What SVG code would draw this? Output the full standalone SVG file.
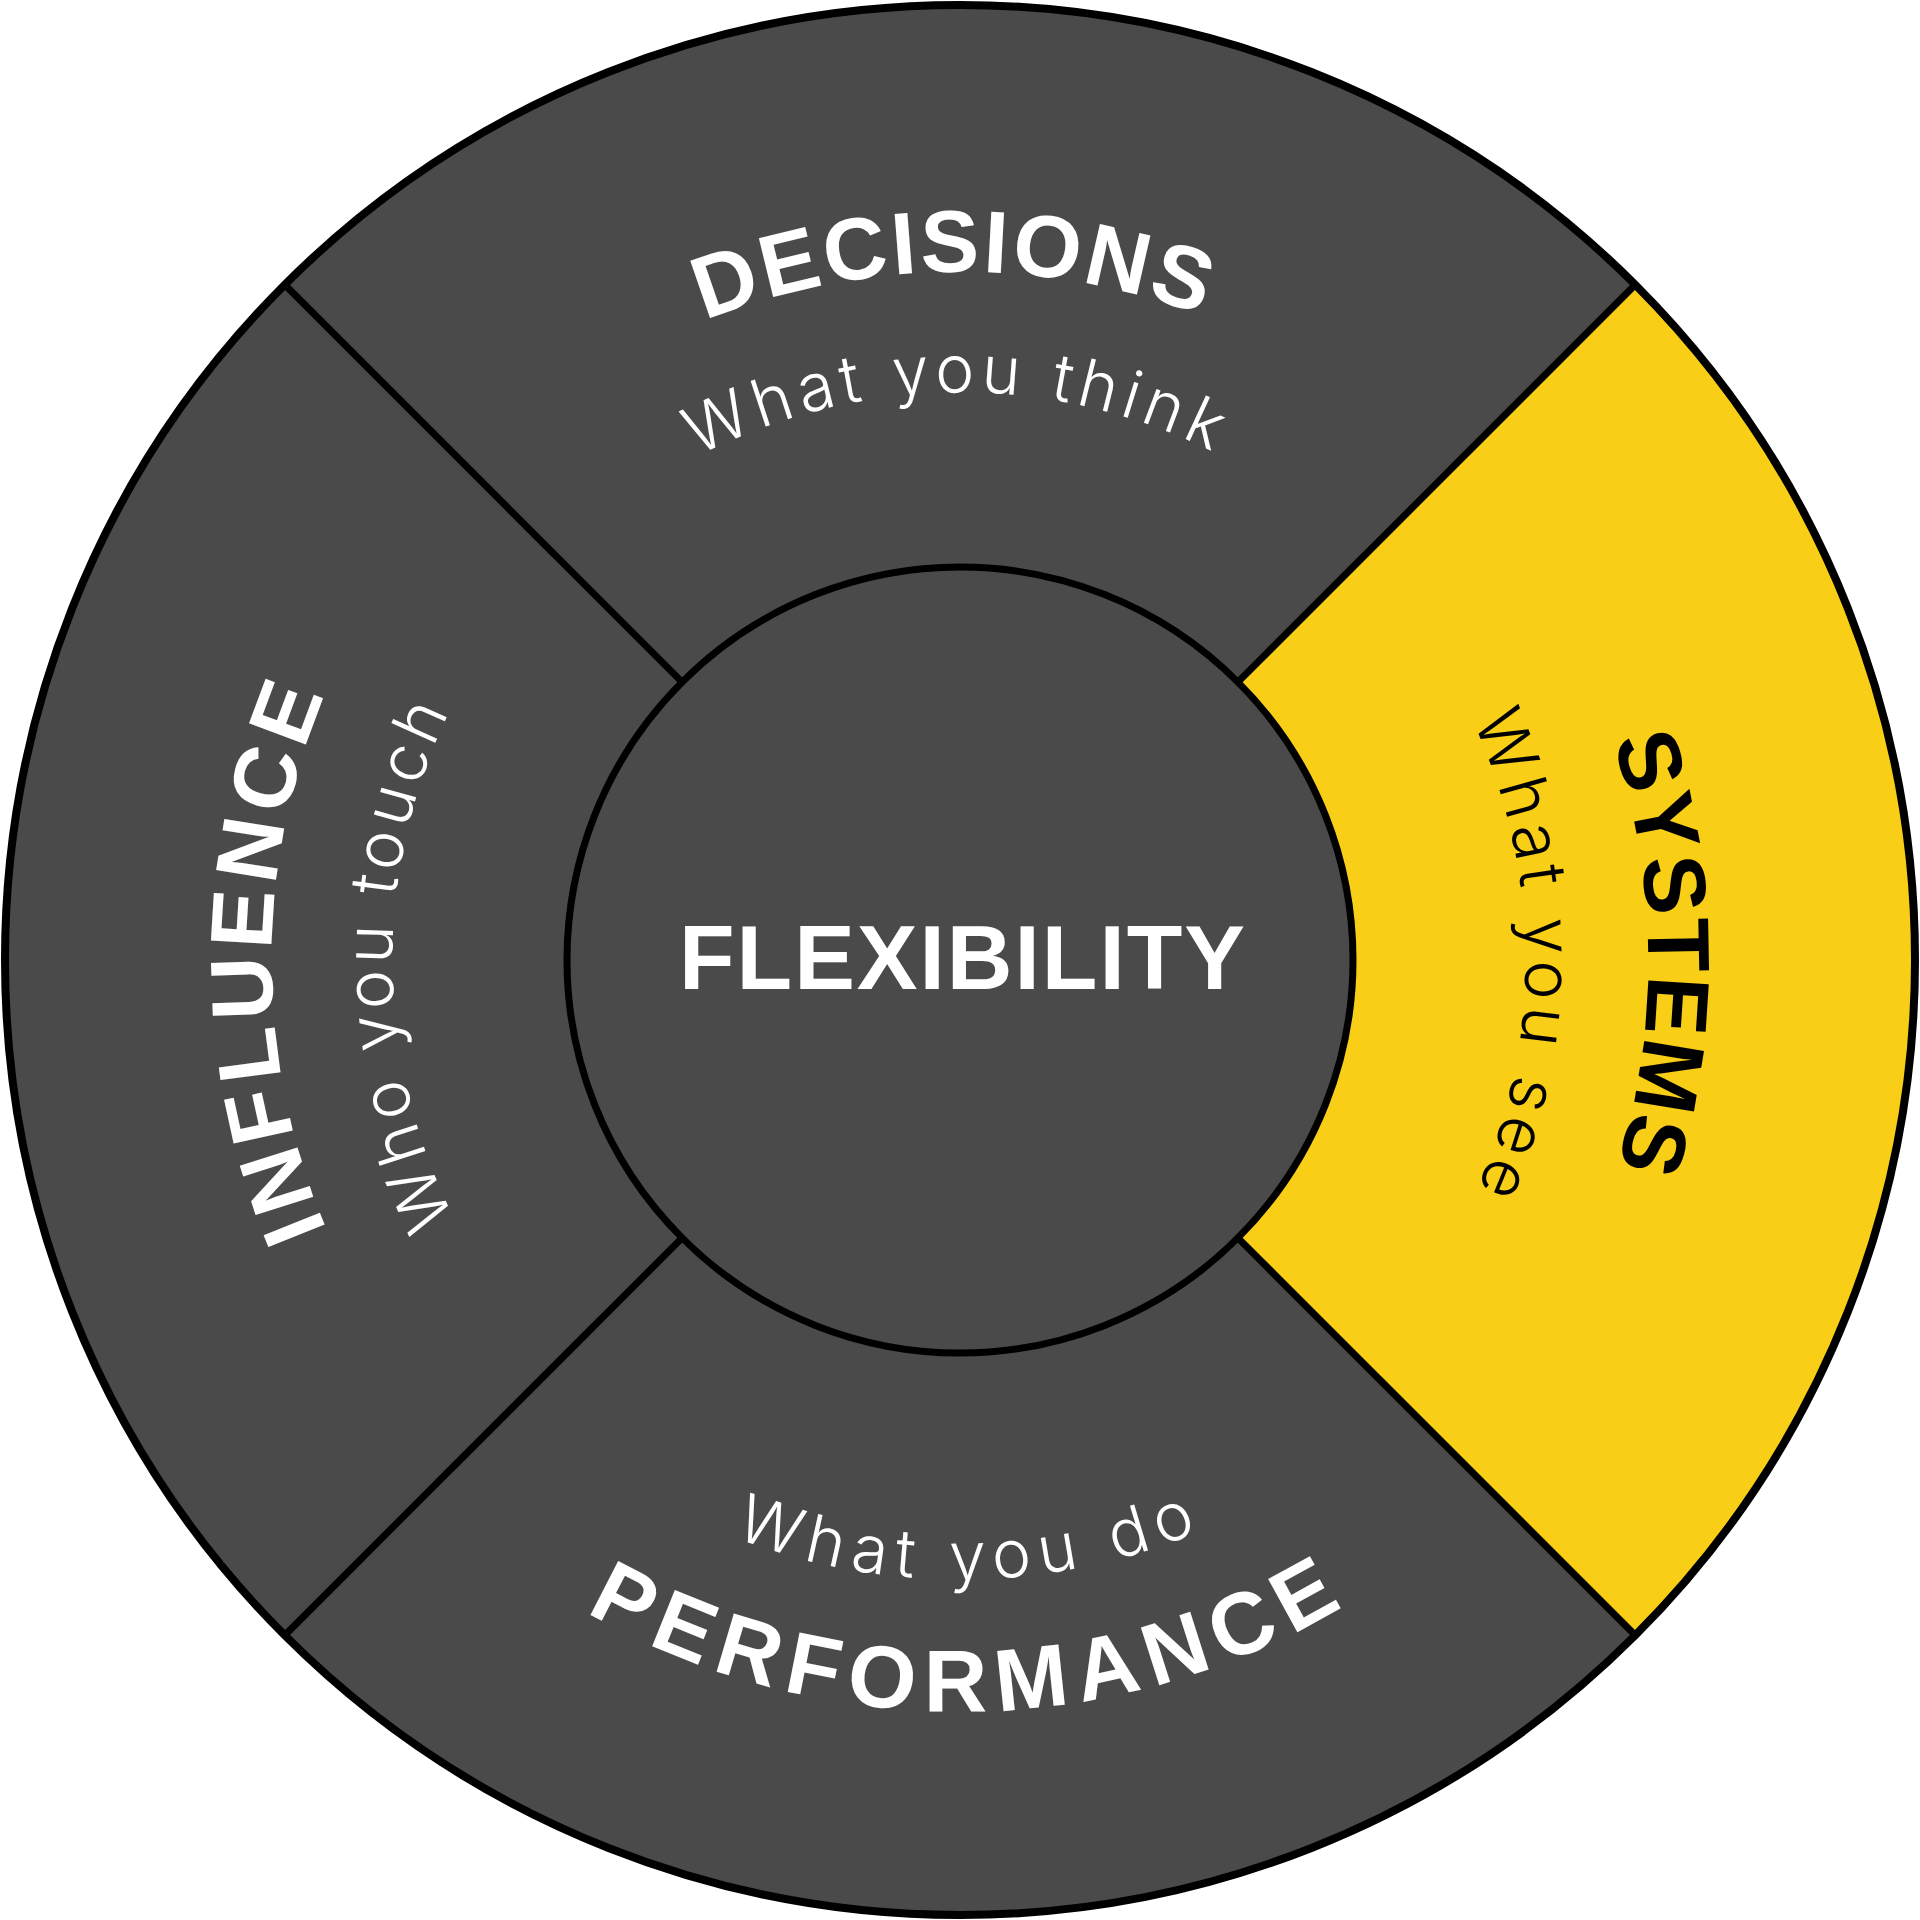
<svg xmlns="http://www.w3.org/2000/svg" xmlns:xlink="http://www.w3.org/1999/xlink" width="1920" height="1920" viewBox="0 0 1920 1920">
<style>
.sector{stroke:none}
.dark{fill:#4a4a4a}
.yellow{fill:#f8ce17}
.ring{fill:none;stroke:#000;stroke-width:8}
.div{stroke:#000;stroke-width:7;fill:none}
.title{font-family:"Liberation Sans",Arial,sans-serif;font-weight:700;font-size:88px}
.sub{font-family:Inter,"Open Sans","Liberation Sans",sans-serif;font-weight:300;font-size:66px}
.w{fill:#fff}
.k{fill:#000}
</style>
<defs>
<path id="pTopT" d="M 274.6 900 A 688 688 0 0 1 1645.4 900"/>
<path id="pTopS" d="M 394.2 910.5 A 568 568 0 0 1 1525.8 910.5"/>
<path id="pRightT" d="M 1020 274.6 A 688 688 0 0 1 1020 1645.4"/>
<path id="pRightS" d="M 1009.3 396.2 A 566 566 0 0 1 1009.3 1523.8"/>
<path id="pLeftT" d="M 900 1645.4 A 688 688 0 0 1 900 274.6"/>
<path id="pLeftS" d="M 910.5 1525.8 A 568 568 0 0 1 910.5 394.2"/>
<path id="pBotT" d="M 210.9 1025.5 A 752 752 0 0 0 1709.1 1025.5"/>
<path id="pBotS" d="M 342.4 1014 A 620 620 0 0 0 1577.6 1014"/>
</defs>

<g id="decisions">
<path class="sector dark" d="M 283.3 283.3 A 957 957 0 0 1 1636.7 283.3 L 1237.9 682.1 A 393 393 0 0 0 682.1 682.1 Z"/>
<text class="title w" letter-spacing="3" transform="rotate(-0.5 960 960)"><textPath xlink:href="#pTopT" href="#pTopT" startOffset="50%" text-anchor="middle">DECISIONS</textPath></text>
<text class="sub w" letter-spacing="6" transform="rotate(-0.3 960 960)"><textPath xlink:href="#pTopS" href="#pTopS" startOffset="50%" text-anchor="middle">What you think</textPath></text>
</g>

<g id="systems">
<path class="sector yellow" d="M 1636.7 283.3 A 957 957 0 0 1 1636.7 1636.7 L 1237.9 1237.9 A 393 393 0 0 0 1237.9 682.1 Z"/>
<text class="title k" letter-spacing="2" transform="rotate(-0.5 960 960)"><textPath xlink:href="#pRightT" href="#pRightT" startOffset="50%" text-anchor="middle">SYSTEMS</textPath></text>
<text class="sub k" letter-spacing="5.8" transform="rotate(-0.3 960 960)"><textPath xlink:href="#pRightS" href="#pRightS" startOffset="50%" text-anchor="middle">What you see</textPath></text>
</g>

<g id="performance">
<path class="sector dark" d="M 1636.7 1636.7 A 957 957 0 0 1 283.3 1636.7 L 682.1 1237.9 A 393 393 0 0 0 1237.9 1237.9 Z"/>
<text class="title w" letter-spacing="10.5" transform="rotate(-0.8 960 960)"><textPath xlink:href="#pBotT" href="#pBotT" startOffset="50%" text-anchor="middle">PERFORMANCE</textPath></text>
<text class="sub w" letter-spacing="8.8" transform="rotate(-1 960 960)"><textPath xlink:href="#pBotS" href="#pBotS" startOffset="50%" text-anchor="middle">What you do</textPath></text>
</g>

<g id="influence">
<path class="sector dark" d="M 283.3 1636.7 A 957 957 0 0 1 283.3 283.3 L 682.1 682.1 A 393 393 0 0 0 682.1 1237.9 Z"/>
<text class="title w" letter-spacing="5.7"><textPath xlink:href="#pLeftT" href="#pLeftT" startOffset="50%" text-anchor="middle">INFLUENCE</textPath></text>
<text class="sub w" letter-spacing="5" transform="rotate(-0.4 960 960)"><textPath xlink:href="#pLeftS" href="#pLeftS" startOffset="50%" text-anchor="middle">Who you touch</textPath></text>
</g>

<g id="connectors">
<line class="div" x1="682.1" y1="682.1" x2="283.3" y2="283.3"/>
<line class="div" x1="1237.9" y1="682.1" x2="1636.7" y2="283.3"/>
<line class="div" x1="1237.9" y1="1237.9" x2="1636.7" y2="1636.7"/>
<line class="div" x1="682.1" y1="1237.9" x2="283.3" y2="1636.7"/>
<circle class="ring" cx="960" cy="960" r="955"/>
</g>

<g id="flexibility">
<circle cx="960" cy="960" r="393" fill="#4a4a4a" stroke="#000" stroke-width="7"/>
<text x="963" y="989" text-anchor="middle" font-family="'Liberation Sans',Arial,sans-serif" font-weight="700" font-size="91" letter-spacing="2" fill="#fff">FLEXIBILITY</text>
</g>
</svg>
